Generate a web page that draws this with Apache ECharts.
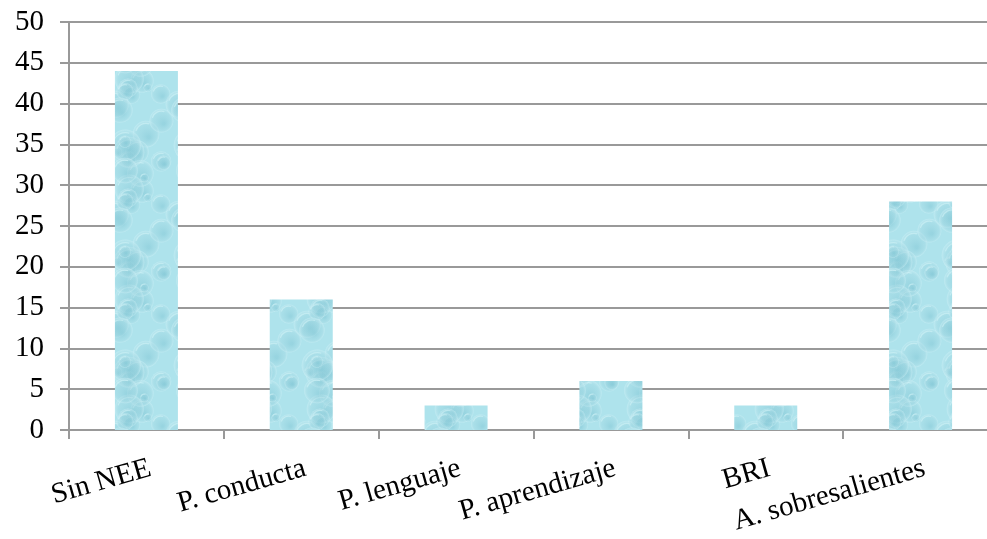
<!DOCTYPE html>
<html>
<head>
<meta charset="utf-8">
<script src="https://cdn.jsdelivr.net/npm/echarts@6/dist/echarts.min.js"></script>
<style>
  html, body { margin: 0; padding: 0; background: #fff; }
  #chart { width: 987px; height: 539px; }
</style>
</head>
<body>
<div id="chart"></div>
<script>
// Students by type of special educational need
const categories = ['Sin NEE', 'P. conducta', 'P. lenguaje', 'P. aprendizaje', 'BRI', 'A. sobresalientes'];
const values = [44, 16, 3, 6, 3, 28];
const yTicks = { min: 0, max: 50, interval: 5 };

// Soft water-droplet texture used to fill the bars
function dropletTexture() {
  const c = document.createElement('canvas');
  c.width = 64; c.height = 110;
  const g = c.getContext('2d');
  g.fillStyle = '#aee3ec';
  g.fillRect(0, 0, c.width, c.height);
  let s = 11;
  const rnd = () => { s = (s * 16807) % 2147483647; return (s - 1) / 2147483646; };
  for (let i = 0; i < 22; i++) {
    const x = rnd() * c.width, y = rnd() * c.height, r = 4 + rnd() * 13;
    for (const dx of [-c.width, 0, c.width]) {
      for (const dy of [-c.height, 0, c.height]) {
        const cx = x + dx, cy = y + dy;
        const grad = g.createRadialGradient(cx + r * 0.2, cy + r * 0.25, r * 0.1, cx, cy, r);
        grad.addColorStop(0, 'rgba(125,195,210,0.45)');
        grad.addColorStop(0.7, 'rgba(150,208,220,0.25)');
        grad.addColorStop(1, 'rgba(205,240,246,0.55)');
        g.fillStyle = grad;
        g.beginPath(); g.arc(cx, cy, r, 0, Math.PI * 2); g.fill();
        g.strokeStyle = 'rgba(220,248,251,0.45)';
        g.lineWidth = 1.2;
        g.beginPath(); g.arc(cx, cy, r * 0.8, Math.PI * 1.1, Math.PI * 1.6); g.stroke();
      }
    }
  }
  return c;
}

const chart = echarts.init(document.getElementById('chart'), null, { renderer: 'canvas' });
const font = 'Liberation Serif, Times New Roman, serif';
chart.setOption({
  animation: false,
  grid: {
    left: 69, top: 22, right: -11, bottom: 109,
    containLabel: false, outerBoundsMode: 'none'
  },
  xAxis: {
    type: 'category',
    data: categories,
    axisLine: { lineStyle: { color: '#999', width: 2 } },
    axisTick: { show: true, length: 9, lineStyle: { color: '#999', width: 2 } },
    axisLabel: {
      interval: 0, rotate: 16, margin: 24,
      color: '#000', fontFamily: font, fontSize: 29,
      align: 'right', verticalAlign: 'top',
      formatter: v => v
    }
  },
  yAxis: {
    type: 'value',
    min: yTicks.min, max: yTicks.max, interval: yTicks.interval,
    axisLine: { show: true, lineStyle: { color: '#999', width: 2 } },
    axisTick: { show: true, length: 9, lineStyle: { color: '#999', width: 2 } },
    splitLine: { lineStyle: { color: '#999', width: 2 } },
    axisLabel: { color: '#000', fontFamily: font, fontSize: 29, margin: 25 }
  },
  series: [{
    type: 'bar',
    data: values,
    barWidth: 63,
    itemStyle: { color: { image: dropletTexture(), repeat: 'repeat' } }
  }]
});
</script>
</body>
</html>
